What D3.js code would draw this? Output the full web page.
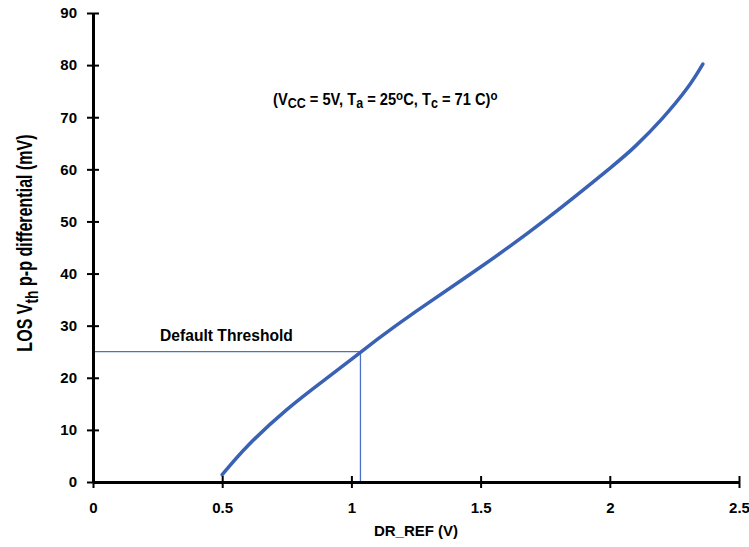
<!DOCTYPE html>
<html>
<head>
<meta charset="utf-8">
<script src="https://cdn.jsdelivr.net/npm/d3@7"></script>
<style>
  body { margin: 0; background: #fff; }
  text { font-family: "Liberation Sans", Arial, sans-serif; font-weight: bold; fill: #000; }
</style>
</head>
<body>
<svg id="chart"></svg>
<script>
const svgWidth = 749;
const svgHeight = 547;

// DR_REF (V) vs LOS threshold (mV)
const drRef = [0.50, 0.60, 0.75, 0.90, 1.00, 1.10, 1.25, 1.50, 1.75, 2.00, 2.10, 2.20, 2.30, 2.36];
const losMv = [1.4, 7.0, 13.9, 19.75, 23.55, 27.35, 32.75, 41.25, 50.3, 60.2, 64.5, 69.6, 75.6, 80.2];

const xTicks = [0, 0.5, 1, 1.5, 2, 2.5];
const yTicks = [0, 10, 20, 30, 40, 50, 60, 70, 80, 90];

const thresholdX = 1.035;
const thresholdY = 25;

const margin = { top: 13, right: 10, bottom: 65, left: 93 };

const svg = d3.select("#chart")
    .attr("width", svgWidth)
    .attr("height", svgHeight);

const x = d3.scaleLinear().domain([0, 2.5]).range([margin.left, 739]);
const y = d3.scaleLinear().domain([0, 90]).range([482, margin.top]);

// threshold guide lines
svg.append("line")
    .attr("x1", x(0)).attr("x2", x(thresholdX))
    .attr("y1", y(thresholdY)).attr("y2", y(thresholdY))
    .attr("stroke", "#4a72c4").attr("stroke-width", 1.3);
svg.append("line")
    .attr("x1", x(thresholdX)).attr("x2", x(thresholdX))
    .attr("y1", y(thresholdY)).attr("y2", y(0))
    .attr("stroke", "#4a72c4").attr("stroke-width", 1.3);

// curve
const pts = drRef.map((d, i) => [d, losMv[i]]);
svg.append("path")
    .datum(pts)
    .attr("fill", "none")
    .attr("stroke", "#3a62b4")
    .attr("stroke-width", 3.5)
    .attr("stroke-linecap", "round")
    .attr("d", d3.line().x(d => x(d[0])).y(d => y(d[1])).curve(d3.curveNatural));

// axes
const xAxis = svg.append("g")
    .attr("transform", `translate(0,${y(0)})`)
    .call(d3.axisBottom(x).tickValues(xTicks).tickFormat(d => d).tickSizeInner(6).tickSizeOuter(0).tickPadding(14));
const yAxis = svg.append("g")
    .attr("transform", `translate(${x(0)},0)`)
    .call(d3.axisLeft(y).tickValues(yTicks).tickSizeInner(6).tickSizeOuter(0).tickPadding(10));

[xAxis, yAxis].forEach(a => {
    a.attr("font-family", null);
    a.select(".domain").attr("stroke", "#000").attr("stroke-width", 3);
    a.selectAll(".tick line").attr("stroke", "#000").attr("stroke-width", 2);
    a.selectAll(".tick text").attr("font-size", 15).attr("fill", "#000");
});
// ticks cross the axis
xAxis.selectAll(".tick line").attr("y1", -6).attr("y2", 6);
yAxis.selectAll(".tick line").attr("x1", -6).attr("x2", 6);

// axis titles
svg.append("text")
    .attr("x", 416).attr("y", 536)
    .attr("text-anchor", "middle")
    .attr("font-size", 15)
    .text("DR_REF (V)");

const yTitle = svg.append("text")
    .attr("transform", "translate(32,243) rotate(-90) scale(0.73,1)")
    .attr("text-anchor", "middle")
    .attr("font-size", 22);
yTitle.append("tspan").text("LOS V");
yTitle.append("tspan").attr("baseline-shift", "-30%").attr("font-size", 19).text("th");
yTitle.append("tspan").text(" p-p differential (mV)");

// annotations
svg.append("text")
    .attr("transform", "translate(160,341) scale(0.92,1)")
    .attr("font-size", 17)
    .text("Default Threshold");

const cond = svg.append("text")
    .attr("transform", "translate(273,105) scale(0.89,1)")
    .attr("font-size", 16.5);
const parts = [
    ["(V", null], ["CC", "sub"], [" = 5V, T", null], ["a", "sub"], [" = 25", null], ["o", "sup"],
    ["C, T", null], ["c", "sub"], [" = 71  C)", null], ["o", "sup"]
];
parts.forEach(([t, k]) => {
    const s = cond.append("tspan").text(t);
    if (k === "sub") s.attr("baseline-shift", "-25%").attr("font-size", 14);
    if (k === "sup") s.attr("baseline-shift", "45%").attr("font-size", 13);
});
</script>
</body>
</html>
